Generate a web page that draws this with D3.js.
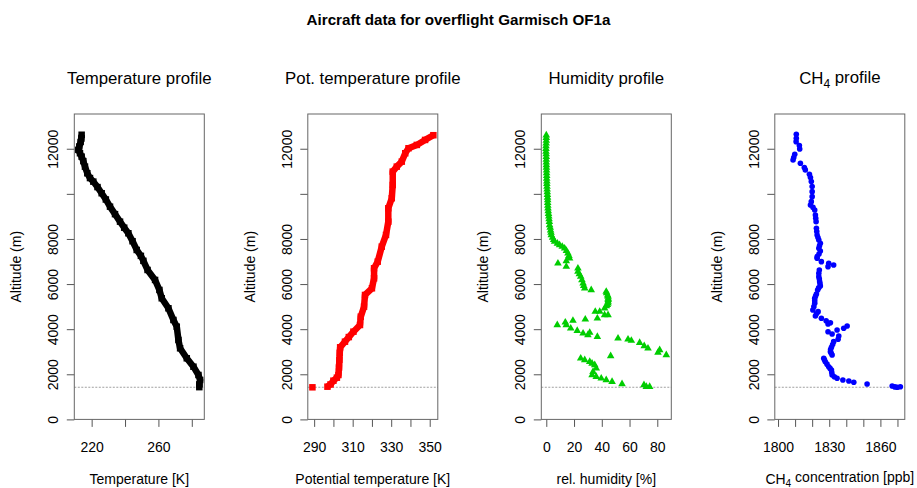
<!DOCTYPE html>
<html>
<head>
<meta charset="utf-8">
<script src="https://cdn.jsdelivr.net/npm/d3@7/dist/d3.min.js"></script>
<style>
  body { margin: 0; background: #fff; }
  svg text { font-family: "Liberation Sans", Arial, Helvetica, sans-serif; fill: #000; }
</style>
</head>
<body>
<div id="viz"></div>
<script>
// ---- data (altitude in m, value) ----
const altTicks = [0, 2000, 4000, 6000, 8000, 10000, 12000]
const altLabels = [0, 2000, 4000, 6000, 8000, 12000]
const groundAlt = 1425

const tempTicks = [220, 240, 260, 280]
const tempLabels = [220, 260]
const tempProfile = [
  [12620, 214], [12450, 213.8], [12300, 213.4], [12100, 212.6], [11950, 212], [11800, 213],
  [11650, 214], [11450, 215], [11207, 216], [10913, 217.4], [10700, 219], [10542, 221],
  [10300, 223.5], [10027, 226], [9750, 228.5], [9432, 231], [9100, 234], [8767, 237],
  [8500, 239.5], [8253, 242], [7900, 244.5], [7512, 247], [7250, 249.5], [7030, 251],
  [6625, 253.5], [6182, 258], [5739, 260.6], [5370, 262], [4927, 266], [4408, 269],
  [4111, 271], [3521, 272], [3153, 273], [2709, 277], [2337, 281], [1969, 284],
  [1747, 285], [1550, 284.5], [1430, 284.5]
]

const thetaTicks = [290, 300, 310, 320, 330, 340, 350]
const thetaLabels = [290, 310, 330, 350]
const thetaOutlier = [[1423, 289.1]]
const thetaProfile = [
  [1450, 296.9], [1550, 298.5], [1716, 300], [1850, 301.8], [1969, 302.6], [2300, 302.9],
  [2634, 303.1], [2950, 303.3], [3197, 303.5], [3446, 306], [3650, 308], [3890, 310.4],
  [4186, 313.8], [4554, 314.2], [4998, 315.9], [5517, 316.4], [5813, 320], [6257, 321.1],
  [6700, 321.1], [6993, 323], [7659, 325.1], [8178, 327.3], [8767, 328.5], [9361, 328.5],
  [9805, 330.3], [10395, 330.8], [10985, 330.8], [11207, 332.9], [11429, 335.5], [11800, 337.3],
  [12022, 339], [12169, 343.3], [12390, 347.6], [12600, 351.9]
]

const humTicks = [0, 20, 40, 60, 80]
const humLabels = [0, 20, 40, 60, 80]
const humProfile = [
  [12600, 0], [12480, 0], [12360, 0], [12240, -0.1], [12120, -0.2], [12000, -0.2], [11880, -0.2],
  [11760, -0.1], [11640, 0], [11520, 0], [11400, 0], [11280, 0.1], [11160, 0.1], [11040, 0.2],
  [10920, 0.2], [10800, 0.3], [10680, 0.3], [10560, 0.4], [10440, 0.4], [10320, 0.5], [10200, 0.6],
  [10080, 0.7], [9960, 0.8], [9840, 0.9], [9720, 1], [9600, 1], [9480, 1.1], [9361, 1.2],
  [9240, 1.4], [9120, 1.6], [9000, 1.8], [8880, 2], [8760, 2.2], [8621, 2.4], [8500, 2.8],
  [8380, 3.1], [8280, 3.4], [8178, 3.6], [8060, 4.5], [7960, 5.3], [7881, 6], [7800, 8],
  [7733, 9.6], [7660, 11.5], [7585, 13.2], [7480, 14.5], [7363, 15.6], [7250, 16.3], [7142, 16.8],
  [7024, 14.4], [6921, 8.4], [6773, 14.4], [6700, 22.8], [6550, 22.8], [6440, 23.8], [6328, 24.8],
  [6180, 25.7], [6035, 26.5], [5920, 27], [5813, 27.7], [5739, 32.4], [5665, 43.2], [5600, 43.5],
  [5500, 44.2], [5441, 44.5], [5360, 44.6], [5300, 44.6], [5220, 44.5], [5148, 44.5], [5080, 44],
  [5030, 43.3], [4927, 42], [4778, 38.5], [4778, 35.3], [4630, 42], [4630, 44.5], [4483, 36.8],
  [4439, 28.1], [4377, 19.2], [4306, 13.7], [4186, 7.9], [4186, 14.4], [4039, 17.6], [3933, 22.3],
  [3818, 26.5], [3845, 31.3], [3742, 30], [3667, 36.8], [3596, 51.7], [3552, 58.9], [3490, 61.3],
  [3401, 67.3], [3255, 70.6], [3153, 73.3], [3077, 81.7], [2958, 80.5], [2856, 86.5], [2811, 46.4],
  [2709, 24.8], [2634, 27.7], [2558, 31.3], [2480, 33], [2412, 34.9], [2266, 36], [2115, 33.7],
  [1969, 33], [1893, 36], [1822, 39.6], [1747, 43.2], [1672, 47.4], [1570, 54.6], [1525, 70.4],
  [1450, 74.5], [1450, 72.1]
]

const ch4Ticks = [1800, 1810, 1820, 1830, 1840, 1850, 1860, 1870]
const ch4Labels = [1800, 1830, 1860]
const ch4Profile = [
  [12643, 1810.7], [12466, 1810.7], [12315, 1810.6], [12140, 1812.5], [11991, 1812.7], [11755, 1809.8],
  [11606, 1809.2], [11503, 1808.8], [11356, 1813.1], [11163, 1815.4], [11061, 1816], [10869, 1818.4],
  [10720, 1819], [10542, 1819.5], [10321, 1820], [10098, 1820],
  [9876, 1820], [9655, 1819.5], [9508, 1819], [9400, 1820.5],
  [9286, 1821.5], [9064, 1821.9], [8920, 1822.1], [8767, 1822.3],
  [8474, 1822.5], [8330, 1822.7], [8178, 1822.9], [8060, 1823.4], [7956, 1823.9], [7808, 1824.8],
  [7700, 1824.3], [7585, 1823.9], [7467, 1824.8], [7330, 1824], [7216, 1822.9], [7142, 1822.9],
  [6993, 1825.4], [6921, 1829.7], [6773, 1829.3], [6847, 1832.6], [6625, 1824.2],
  [6478, 1823.9], [6328, 1823.9], [6220, 1824.2], [6106, 1824.4], [6010, 1824.6],
  [5916, 1824.8], [5830, 1823.8], [5739, 1823.2], [5561, 1822.5], [5470, 1822],
  [5370, 1821.5], [5260, 1821.5], [5148, 1821.5], [4998, 1821], [4850, 1820.4],
  [4778, 1823.5], [4680, 1822.5], [4586, 1821.9], [4483, 1825.4], [4377, 1828.2], [4288, 1830.7],
  [4230, 1829.3], [4142, 1840.5], [4039, 1838.5], [3964, 1834.6], [3889, 1829.3], [3787, 1831.7],
  [3698, 1835.6], [3552, 1835.2], [3446, 1832.6], [3320, 1832], [3197, 1831.3], [3100, 1830.8],
  [3002, 1830.7], [2930, 1831.2], [2856, 1831.7], [2709, 1826.8], [2640, 1827.2], [2558, 1827.7],
  [2450, 1828.7], [2337, 1829.7], [2260, 1830.5], [2190, 1831.3], [2080, 1831.5], [1969, 1831.7],
  [1890, 1833], [1822, 1834.6], [1747, 1838], [1703, 1841.5], [1645, 1844.4], [1570, 1852.2],
  [1481, 1866.9], [1440, 1868.5], [1423, 1869.9], [1450, 1871.7]
]

// ---- layout ----
const width = 917
const height = 488
const boxTop = 114
const boxBottom = 419.4
const boxWidth = 130
const firstLeft = 74.3
const panelStep = 233.5
const tickLen = 7.5

const panels = [
  { title: ["Temperature profile"], xlab: ["Temperature [K]"], domain: [209.6, 287.5],
    ticks: tempTicks, labels: tempLabels, color: "#000000", shape: "square",
    series: tempProfile, extra: [] },
  { title: ["Pot. temperature profile"], xlab: ["Potential temperature [K]"], domain: [286.7, 354.2],
    ticks: thetaTicks, labels: thetaLabels, color: "#ff0000", shape: "square",
    series: thetaProfile, extra: thetaOutlier },
  { title: ["Humidity profile"], xlab: ["rel. humidity [%]"], domain: [-3.6, 90.1],
    ticks: humTicks, labels: humLabels, color: "#00cd00", shape: "triangle",
    series: humProfile, extra: [] },
  { title: ["CH", "4", " profile"], xlab: ["CH", "4", " concentration [ppb]"], domain: [1798.1, 1874.3],
    ticks: ch4Ticks, labels: ch4Labels, color: "#0000ff", shape: "circle",
    series: ch4Profile, extra: [] }
]

const svg = d3.select("#viz").append("svg")
  .attr("width", width)
  .attr("height", height)

svg.append("rect").attr("width", width).attr("height", height).attr("fill", "#fff")

// main title
svg.append("text")
  .attr("x", width / 2)
  .attr("y", 25)
  .attr("text-anchor", "middle")
  .attr("font-size", 15.2)
  .attr("font-weight", "bold")
  .text("Aircraft data for overflight Garmisch OF1a")

const y = d3.scaleLinear().domain([0, 13540]).range([boxBottom, boxTop])

// writes text parts, the middle part as a subscript
function subText(sel, parts) {
  sel.append("tspan").text(parts[0])
  if (parts.length > 1) {
    sel.append("tspan").attr("font-size", "72%").attr("dy", "0.3em").text(parts[1])
    sel.append("tspan").attr("dy", "-0.3em").text(parts[2])
  }
}

panels.forEach((p, i) => {
  const left = firstLeft + i * panelStep
  const right = left + boxWidth
  const x = d3.scaleLinear().domain(p.domain).range([left, right])
  const g = svg.append("g")

  // panel title
  subText(g.append("text")
    .attr("x", (left + right) / 2)
    .attr("y", 84)
    .attr("text-anchor", "middle")
    .attr("font-size", 16.8), p.title)

  // x axis
  const xAxis = g.append("g")
    .attr("transform", `translate(0,${boxBottom})`)
    .call(d3.axisBottom(x)
      .tickValues(p.ticks)
      .tickSize(tickLen)
      .tickFormat(d => p.labels.includes(d) ? d : ""))
  xAxis.select(".domain").remove()
  xAxis.selectAll("line").attr("stroke", "#555")
  xAxis.selectAll("text")
    .attr("y", 32.6)
    .attr("dy", null)
    .attr("font-size", 14)
    .attr("font-family", null)
    .attr("fill", "#000")

  // y axis
  const yAxis = g.append("g")
    .attr("transform", `translate(${left},0)`)
    .call(d3.axisLeft(y)
      .tickValues(altTicks)
      .tickSize(tickLen)
      .tickFormat(d => altLabels.includes(d) ? d : ""))
  yAxis.select(".domain").remove()
  yAxis.selectAll("line").attr("stroke", "#555")
  yAxis.selectAll("text")
    .attr("x", null)
    .attr("dy", "0.35em")
    .attr("text-anchor", "middle")
    .attr("transform", "translate(-21,0) rotate(-90)")
    .attr("font-size", 14)
    .attr("font-family", null)
    .attr("fill", "#000")

  // axis titles
  subText(g.append("text")
    .attr("x", (left + right) / 2)
    .attr("y", 483.5)
    .attr("text-anchor", "middle")
    .attr("font-size", 14), p.xlab)

  g.append("text")
    .attr("transform", `translate(${left - 58},${(boxTop + boxBottom) / 2}) rotate(-90)`)
    .attr("dy", "0.35em")
    .attr("text-anchor", "middle")
    .attr("font-size", 14)
    .text("Altitude (m)")

  // ground level
  g.append("line")
    .attr("x1", left).attr("x2", right)
    .attr("y1", y(groundAlt)).attr("y2", y(groundAlt))
    .attr("stroke", "#888")
    .attr("stroke-width", 0.8)
    .attr("stroke-dasharray", "2,1.5")

  // data
  if (p.shape === "square") {
    const line = d3.line().x(d => x(d[1])).y(d => y(d[0]))
    g.append("path")
      .attr("d", line(p.series))
      .attr("fill", "none")
      .attr("stroke", p.color)
      .attr("stroke-width", 6.5)
      .attr("stroke-linejoin", "round")
    g.selectAll("rect.pt")
      .data(p.series.concat(p.extra))
      .enter()
      .append("rect")
        .attr("class", "pt")
        .attr("x", d => x(d[1]) - 3.25)
        .attr("y", d => y(d[0]) - 3.25)
        .attr("width", 6.5)
        .attr("height", 6.5)
        .attr("fill", p.color)
  } else if (p.shape === "triangle") {
    const tri = d3.symbol(d3.symbolTriangle, 25)
    g.selectAll("path.pt")
      .data(p.series)
      .enter()
      .append("path")
        .attr("class", "pt")
        .attr("d", tri)
        .attr("transform", d => `translate(${x(d[1])},${y(d[0])})`)
        .attr("fill", p.color)
  } else {
    g.selectAll("circle.pt")
      .data(p.series)
      .enter()
      .append("circle")
        .attr("class", "pt")
        .attr("cx", d => x(d[1]))
        .attr("cy", d => y(d[0]))
        .attr("r", 2.8)
        .attr("fill", p.color)
  }

  // plot box
  g.append("rect")
    .attr("x", left)
    .attr("y", boxTop)
    .attr("width", boxWidth)
    .attr("height", boxBottom - boxTop)
    .attr("fill", "none")
    .attr("stroke", "#666")
    .attr("stroke-width", 1)
})
</script>
</body>
</html>
